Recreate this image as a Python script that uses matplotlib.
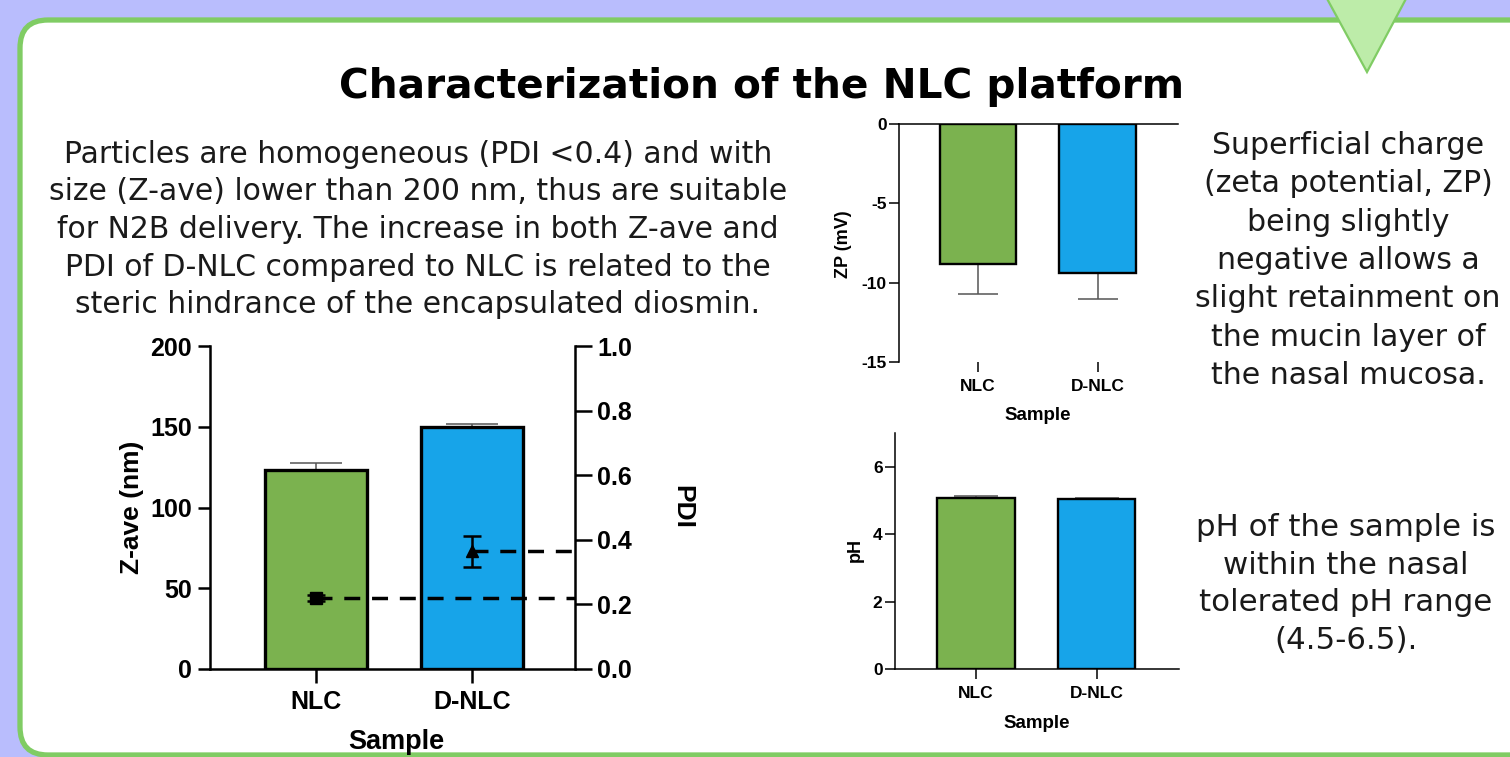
import matplotlib
matplotlib.use('Agg')
import matplotlib.pyplot as plt
from matplotlib.patches import FancyBboxPatch, Polygon
import numpy as np

# ---------------- data ----------------
categories = ['NLC', 'D-NLC']
zave = [123, 150]
zave_sd = [4.5, 1.5]
pdi = [0.22, 0.365]
pdi_sd = [0.01, 0.048]
zp = [-8.8, -9.4]
zp_sd = [1.9, 1.6]
ph = [5.06, 5.03]
ph_sd = [0.08, 0.04]

zave_ticks = [0, 50, 100, 150, 200]
pdi_ticks = [0.0, 0.2, 0.4, 0.6, 0.8, 1.0]
zp_ticks = [-15, -10, -5, 0]
ph_ticks = [0, 2, 4, 6]

title = 'Characterization of the NLC platform'
left_text = ['Particles are homogeneous (PDI <0.4) and with',
             'size (Z-ave) lower than 200 nm, thus are suitable',
             'for N2B delivery. The increase in both Z-ave and',
             'PDI of D-NLC compared to NLC is related to the',
             'steric hindrance of the encapsulated diosmin.']
zp_text = ['Superficial charge', '(zeta potential, ZP)', 'being slightly',
           'negative allows a', 'slight retainment on', 'the mucin layer of',
           'the nasal mucosa.']
ph_text = ['pH of the sample is', 'within the nasal', 'tolerated pH range', '(4.5-6.5).']

# ---------------- style ----------------
plt.rcParams['font.family'] = ['Liberation Sans', 'DejaVu Sans']
plt.rcParams['font.weight'] = 'bold'
plt.rcParams['axes.unicode_minus'] = False
GREEN = '#7bb24f'
BLUE = '#17a4e9'
BAR_COLORS = [GREEN, BLUE]
ERR = '#555555'

W, H = 1510, 757
fig = plt.figure(figsize=(W / 100, H / 100), dpi=100)
fig.patch.set_facecolor('#b9bdfd')

bg = fig.add_axes([0, 0, 1, 1])
bg.set_xlim(0, W)
bg.set_ylim(H, 0)
bg.axis('off')
bg.set_zorder(0)
bg.add_patch(FancyBboxPatch((20, 20), 1600, 735,
                            boxstyle='round,pad=0,rounding_size=28',
                            fc='white', ec='#80cc64', lw=3.8))
bg.add_patch(Polygon([(1325, -5), (1408, -5), (1367, 72)], closed=True,
                     fc='#bdeca9', ec='#80cc64', lw=1.6))


def px_axes(l, r, t, b):
    return fig.add_axes([l / W, 1 - b / H, (r - l) / W, (b - t) / H])


x = np.arange(len(categories))

# ---------------- main chart: Z-ave + PDI ----------------
ax = px_axes(210, 575, 346, 669)
ax.set_zorder(2)
ax.patch.set_alpha(0)
ax.errorbar(x, zave, yerr=zave_sd, fmt='none', ecolor=ERR, elinewidth=1.1,
            capsize=19, capthick=1.1, zorder=1)
ax.bar(x, zave, width=0.65, color=BAR_COLORS, edgecolor='black',
       linewidth=2.4, zorder=2)
ax.set_xlim(-0.68, 1.66)
ax.set_ylim(0, 200)
ax.set_yticks(zave_ticks)
ax.set_xticks(x)
ax.set_xticklabels(categories)
for s in ['top', 'right']:
    ax.spines[s].set_visible(False)
for s in ['left', 'bottom']:
    ax.spines[s].set_linewidth(1.8)
ax.tick_params(axis='y', direction='out', length=9, width=1.8, labelsize=18, pad=4)
ax.tick_params(axis='x', direction='out', length=10, width=1.8, labelsize=18, pad=5)

ax2 = ax.twinx()
ax2.set_ylim(0, 1)
ax2.set_yticks(pdi_ticks)
ax2.set_yticklabels([f'{v:.1f}' for v in pdi_ticks])
for s in ['top', 'left', 'bottom']:
    ax2.spines[s].set_visible(False)
ax2.spines['right'].set_linewidth(1.8)
ax2.tick_params(axis='y', direction='out', length=12, width=1.8, labelsize=18, pad=4)
markers = ['s', '^']
for i in range(len(categories)):
    ax2.errorbar(x[i], pdi[i], yerr=pdi_sd[i], fmt=markers[i], ms=9 if i == 0 else 8,
                 color='black', ecolor='black', elinewidth=1.8, capsize=6.5,
                 capthick=1.8, zorder=4, clip_on=False)
    ax2.plot([x[i], ax.get_xlim()[1]], [pdi[i], pdi[i]], color='black', lw=2.5,
             ls=(0, (4.6, 3.4)), zorder=3, solid_capstyle='butt', dash_capstyle='butt')

bg.text(132, 507, 'Z-ave (nm)', rotation=90, ha='center', va='center', fontsize=19)
bg.text(682, 507, 'PDI', rotation=270, ha='center', va='center', fontsize=19)
bg.text(396, 742, 'Sample', ha='center', va='center', fontsize=19.5)

# ---------------- ZP chart ----------------
az = px_axes(899, 1178, 124, 362)
az.errorbar(x, zp, yerr=zp_sd, fmt='none', ecolor=ERR, elinewidth=1.1,
            capsize=14.5, capthick=1.1, zorder=1)
az.bar(x, zp, width=0.64, color=BAR_COLORS, edgecolor='black', linewidth=1.7, zorder=2)
az.set_xlim(-0.66, 1.67)
az.set_ylim(-15, 0)
az.set_yticks(zp_ticks)
az.set_xticks(x)
az.set_xticklabels(categories)
for s in ['right', 'bottom']:
    az.spines[s].set_visible(False)
for s in ['left', 'top']:
    az.spines[s].set_linewidth(1.1)
az.tick_params(axis='y', direction='out', length=7, width=1.1, labelsize=12.5, pad=2)
az.tick_params(axis='x', direction='out', length=7, width=1.1, labelsize=12.5, pad=5,
               bottom=True, top=False)
bg.text(843, 244, 'ZP (mV)', rotation=90, ha='center', va='center', fontsize=13)
bg.text(1038, 415, 'Sample', ha='center', va='center', fontsize=13.5)

# ---------------- pH chart ----------------
ap = px_axes(895, 1179, 433, 669)
ap.errorbar(x, ph, yerr=ph_sd, fmt='none', ecolor=ERR, elinewidth=1.1,
            capsize=16, capthick=1.1, zorder=1)
ap.bar(x, ph, width=0.64, color=BAR_COLORS, edgecolor='black', linewidth=1.7, zorder=2)
ap.set_xlim(-0.67, 1.68)
ap.set_ylim(0, 7)
ap.set_yticks(ph_ticks)
ap.set_xticks(x)
ap.set_xticklabels(categories)
for s in ['right', 'top']:
    ap.spines[s].set_visible(False)
for s in ['left', 'bottom']:
    ap.spines[s].set_linewidth(1.1)
ap.tick_params(axis='y', direction='out', length=7, width=1.1, labelsize=12.5, pad=2)
ap.tick_params(axis='x', direction='out', length=7, width=1.1, labelsize=12.5, pad=5)
bg.text(855, 550, 'pH', rotation=90, ha='center', va='center', fontsize=13)
bg.text(1037, 723, 'Sample', ha='center', va='center', fontsize=13.5)

# ---------------- texts ----------------
renderer = fig.canvas.get_renderer()


def fit_block(lines, cx, y0, dy, target_w, **kw):
    texts = [bg.text(cx, y0 + i * dy, s, ha='center', va='baseline', fontsize=20, **kw)
             for i, s in enumerate(lines)]
    wmax = max(t.get_window_extent(renderer).width for t in texts)
    for t in texts:
        t.set_fontsize(20 * target_w / wmax)
    return texts


fit_block([title], 762, 98, 0, 845, family=['DejaVu Sans'], weight='bold', color='black')
body = dict(family=['DejaVu Sans'], weight='normal', color='#1a1a1a')
fit_block(left_text, 418, 163, 37.5, 738, **body)
fit_block(zp_text, 1348, 154, 38.3, 305, **body)
fit_block(ph_text, 1346, 536, 37.7, 300, **body)

fig.savefig('out.png', dpi=100, facecolor=fig.get_facecolor())
